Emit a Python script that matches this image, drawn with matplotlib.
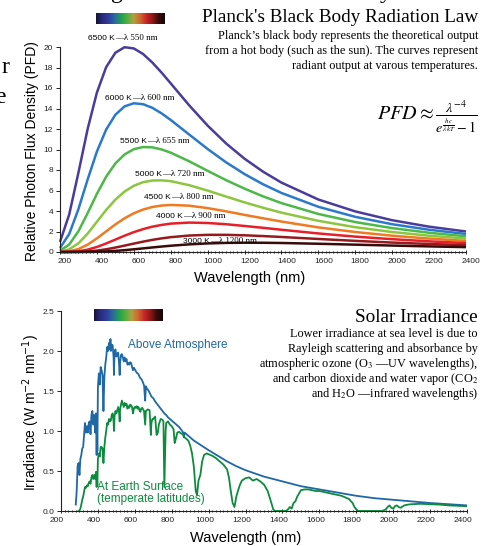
import matplotlib
matplotlib.use("Agg")
import numpy as np
import matplotlib.pyplot as plt
import matplotlib.transforms as mtrans
from matplotlib.colors import LinearSegmentedColormap
from matplotlib.ticker import MultipleLocator, FormatStrFormatter

SANS = 'Liberation Sans'
SERIF = 'Liberation Serif'
plt.rcParams['font.family'] = [SANS, 'DejaVu Sans']

# --- Planck curves (relative photon flux density) ---
wl = [200, 250, 300, 350, 400, 450, 500, 550, 600, 650, 700, 750, 800, 900,
      1000, 1100, 1200, 1300, 1400, 1600, 1800, 2000, 2200, 2400]

pfd_6500 = [0.98, 3.67, 7.75, 12.02, 15.56, 18.03, 19.44, 19.98, 19.86, 19.32, 18.49, 17.51,
            16.45, 14.31, 12.33, 10.59, 9.10, 7.84, 6.77, 5.12, 3.96, 3.10, 2.47, 2.00]
pfd_6000 = [0.39, 1.76, 4.19, 7.09, 9.80, 11.94, 13.39, 14.21, 14.51, 14.42, 14.07, 13.53,
            12.88, 11.46, 10.05, 8.75, 7.60, 6.61, 5.76, 4.41, 3.43, 2.71, 2.17, 1.76]
pfd_5500 = [0.13, 0.73, 2.03, 3.80, 5.68, 7.34, 8.64, 9.52, 10.03, 10.24, 10.21, 10.01,
            9.69, 8.85, 7.92, 7.01, 6.18, 5.43, 4.77, 3.71, 2.92, 2.33, 1.88, 1.53]
pfd_5000 = [0.035, 0.26, 0.85, 1.80, 2.95, 4.10, 5.11, 5.90, 6.46, 6.81, 6.97, 6.99,
            6.91, 6.52, 5.99, 5.41, 4.84, 4.32, 3.84, 3.04, 2.42, 1.95, 1.59, 1.31]
pfd_4500 = [0.007, 0.07, 0.29, 0.72, 1.33, 2.01, 2.69, 3.29, 3.78, 4.14, 4.39, 4.53,
            4.59, 4.52, 4.28, 3.97, 3.62, 3.29, 2.97, 2.40, 1.95, 1.59, 1.31, 1.08]
pfd_4000 = [0.001, 0.015, 0.077, 0.23, 0.49, 0.83, 1.21, 1.59, 1.94, 2.23, 2.47, 2.64,
            2.77, 2.87, 2.83, 2.71, 2.54, 2.36, 2.17, 1.81, 1.50, 1.25, 1.04, 0.87]
pfd_3500 = [0.0, 0.002, 0.014, 0.053, 0.135, 0.264, 0.432, 0.623, 0.821, 1.010, 1.181, 1.328,
            1.447, 1.606, 1.674, 1.674, 1.629, 1.554, 1.465, 1.271, 1.086, 0.921, 0.783, 0.666]
pfd_3000 = [0.0, 0.0, 0.001, 0.0075, 0.024, 0.058, 0.110, 0.179, 0.262, 0.352, 0.443, 0.531,
            0.612, 0.746, 0.837, 0.888, 0.906, 0.901, 0.879, 0.805, 0.716, 0.628, 0.546, 0.475]

pfd_curves = [pfd_6500, pfd_6000, pfd_5500, pfd_5000, pfd_4500, pfd_4000, pfd_3500, pfd_3000]
curve_colors = ['#4a3c9c', '#2b79cc', '#4cb848', '#8cc63f', '#f07a22', '#e61f2a', '#951a1d', '#3a0b0b']

label_temps = ['6500', '6000', '5500', '5000', '4500', '4000', '3000']
label_peaks = ['550', '600', '655', '720', '800', '900', '1200']
label_x = [498, 590, 671, 753, 801, 866, 1013]
label_y = [20.9, 15.1, 10.9, 7.7, 5.4, 3.6, 1.17]

# --- Solar irradiance ---
et_wl = [280, 285, 290, 295, 300, 305, 310, 315, 320, 325, 330, 335, 340, 345, 350, 355, 360,
         365, 370, 375, 380, 385, 390, 393, 395, 397, 400, 405, 410, 415, 420, 425, 430, 435,
         440, 445, 450, 455, 460, 465, 468, 470, 475, 480, 485, 487, 490, 495, 500, 505, 510,
         515, 518, 520, 525, 530, 535, 540, 545, 550, 555, 560, 565, 570, 575, 580, 585, 590,
         595, 600, 605, 610, 615, 620, 625, 630, 635, 640, 645, 650, 656, 660, 665, 670, 680,
         690, 700, 710, 720, 730, 740, 750, 760, 770, 780, 790, 800, 820, 840, 850, 860, 866,
         870, 880, 900, 920, 940, 960, 980, 1000, 1050, 1100, 1150, 1200, 1250, 1300, 1350,
         1400, 1450, 1500, 1550, 1600, 1700, 1800, 1900, 2000, 2100, 2200, 2300, 2400]
et_irr = [0.08, 0.25, 0.56, 0.60, 0.45, 0.65, 0.70, 0.78, 0.80, 0.95, 1.10, 0.98, 1.06, 0.98,
          1.09, 1.12, 0.96, 1.20, 1.25, 1.08, 1.20, 0.98, 1.22, 0.70, 1.05, 0.75, 1.55, 1.72,
          1.58, 1.80, 1.76, 1.70, 1.25, 1.68, 1.83, 1.92, 2.05, 2.00, 2.10, 2.02, 2.15, 2.00,
          2.08, 2.07, 1.92, 1.70, 1.98, 2.02, 1.93, 1.96, 1.98, 1.82, 1.70, 1.85, 1.95, 1.96,
          1.92, 1.87, 1.92, 1.87, 1.90, 1.83, 1.85, 1.83, 1.86, 1.85, 1.80, 1.76, 1.79, 1.77,
          1.75, 1.73, 1.72, 1.71, 1.68, 1.66, 1.65, 1.63, 1.60, 1.57, 1.38, 1.56, 1.53, 1.52,
          1.48, 1.43, 1.41, 1.37, 1.34, 1.31, 1.28, 1.25, 1.22, 1.20, 1.17, 1.15, 1.13, 1.09,
          1.05, 1.02, 0.99, 0.92, 0.98, 0.96, 0.92, 0.88, 0.85, 0.82, 0.79, 0.76, 0.69, 0.62,
          0.56, 0.51, 0.47, 0.43, 0.40, 0.37, 0.34, 0.31, 0.29, 0.27, 0.23, 0.19, 0.16, 0.14,
          0.12, 0.10, 0.085, 0.07]

sfc_wl = [295, 300, 305, 310, 315, 320, 325, 330, 335, 340, 345, 350, 355, 360, 365, 370, 375,
          380, 385, 390, 393, 395, 397, 400, 405, 410, 415, 420, 425, 430, 435, 440, 445, 450,
          455, 460, 465, 470, 475, 480, 485, 487, 490, 495, 500, 505, 510, 515, 518, 520, 525,
          530, 535, 540, 545, 550, 555, 560, 565, 570, 575, 580, 585, 590, 595, 600, 605, 610,
          615, 620, 625, 630, 635, 640, 645, 650, 656, 660, 665, 670, 680, 687, 690, 695, 700,
          710, 718, 725, 730, 740, 750, 755, 760, 763, 767, 770, 780, 790, 800, 810, 816, 822,
          830, 840, 850, 860, 870, 880, 890, 900, 910, 920, 930, 937, 945, 955, 965, 975, 990,
          1000, 1020, 1040, 1060, 1080, 1100, 1110, 1120, 1130, 1140, 1150, 1160, 1170, 1180,
          1200, 1220, 1240, 1260, 1280, 1300, 1320, 1340, 1350, 1360, 1380, 1400, 1420, 1430,
          1440, 1450, 1460, 1470, 1480, 1490, 1500, 1520, 1540, 1560, 1580, 1600, 1620, 1640,
          1660, 1680, 1700, 1720, 1740, 1760, 1780, 1790, 1800, 1810, 1850, 1900, 1940, 1960,
          1970, 1980, 1990, 2000, 2010, 2020, 2030, 2040, 2060, 2080, 2100, 2150, 2200, 2250,
          2300, 2350, 2400]
sfc_irr = [0.0, 0.005, 0.03, 0.08, 0.14, 0.18, 0.24, 0.30, 0.29, 0.32, 0.31, 0.35, 0.37, 0.34,
           0.42, 0.45, 0.40, 0.45, 0.40, 0.49, 0.30, 0.45, 0.32, 0.65, 0.72, 0.68, 0.80, 0.80,
           0.78, 0.60, 0.80, 0.92, 1.00, 1.10, 1.08, 1.15, 1.12, 1.13, 1.20, 1.22, 1.12, 1.00,
           1.18, 1.25, 1.22, 1.26, 1.30, 1.22, 1.12, 1.26, 1.33, 1.38, 1.34, 1.30, 1.35, 1.32,
           1.34, 1.28, 1.31, 1.29, 1.33, 1.32, 1.30, 1.22, 1.28, 1.30, 1.29, 1.31, 1.28, 1.30,
           1.26, 1.24, 1.28, 1.29, 1.27, 1.25, 1.08, 1.25, 1.26, 1.27, 1.26, 0.95, 1.10, 1.15,
           1.15, 1.18, 0.95, 0.98, 1.08, 1.15, 1.14, 1.12, 0.30, 0.60, 1.00, 1.10, 1.12, 1.08,
           1.06, 1.02, 0.85, 0.90, 0.98, 0.99, 0.97, 0.96, 0.92, 0.90, 0.88, 0.82, 0.72, 0.55,
           0.25, 0.20, 0.38, 0.45, 0.62, 0.70, 0.72, 0.71, 0.69, 0.66, 0.62, 0.58, 0.52, 0.42,
           0.25, 0.10, 0.05, 0.18, 0.26, 0.33, 0.38, 0.41, 0.42, 0.38, 0.40, 0.37, 0.33, 0.25,
           0.10, 0.02, 0.0, 0.0, 0.0, 0.0, 0.02, 0.05, 0.03, 0.10, 0.12, 0.18, 0.22, 0.26,
           0.27, 0.27, 0.26, 0.25, 0.25, 0.24, 0.23, 0.22, 0.21, 0.20, 0.19, 0.17, 0.15, 0.10,
           0.05, 0.02, 0.0, 0.0, 0.0, 0.0, 0.02, 0.05, 0.07, 0.04, 0.03, 0.06, 0.07, 0.05,
           0.04, 0.07, 0.08, 0.085, 0.09, 0.085, 0.08, 0.07, 0.065, 0.06]

spectrum_colors = ['#141433', '#2a2a80', '#2d3f9a', '#2a6aa0', '#22a050', '#50b040',
                   '#b0a040', '#d06a30', '#c82828', '#901818', '#3a0a0a', '#100808']

W, H = 482, 546
fig = plt.figure(figsize=(W / 100, H / 100), dpi=100)


def fx(px):
    return px / W


def fy(py):
    return 1 - py / H


def style_axes(ax):
    for s in ('top', 'right'):
        ax.spines[s].set_visible(False)
    for s in ('left', 'bottom'):
        ax.spines[s].set_linewidth(0.8)
        ax.spines[s].set_color('#222222')
    ax.set_facecolor('none')
    ax.tick_params(which='both', labelsize=6, colors='#222222', width=0.7)
    ax.tick_params(axis='y', direction='out', length=3, pad=2)
    ax.tick_params(axis='x', which='major', direction='inout', length=3, pad=3)
    ax.tick_params(axis='x', which='minor', direction='inout', length=2)
    ax.set_xlim(200, 2400)
    ax.xaxis.set_major_locator(MultipleLocator(200))
    ax.xaxis.set_minor_locator(MultipleLocator(20))


def shift_xlabels(ax, px):
    offset = mtrans.ScaledTranslation(px / 100, 0, fig.dpi_scale_trans)
    for lab in ax.get_xticklabels():
        lab.set_transform(lab.get_transform() + offset)


def spectrum_bar(px0, py0, px1, py1):
    cax = fig.add_axes([fx(px0), fy(py1), (px1 - px0) / W, (py1 - py0) / H])
    cmap = LinearSegmentedColormap.from_list('spec', spectrum_colors)
    cax.imshow(np.linspace(0, 1, 256)[None, :], aspect='auto', cmap=cmap)
    cax.set_axis_off()


# ---------- top: Planck ----------
ax1 = fig.add_axes([fx(60), fy(252), 406 / W, 205 / H])
for vals, c in zip(pfd_curves, curve_colors):
    ax1.plot(wl, vals, color=c, lw=1.8, clip_on=False, solid_capstyle='butt')
ax1.set_ylim(0, 20)
ax1.yaxis.set_major_locator(MultipleLocator(2))
style_axes(ax1)

for t, p, x, y in zip(label_temps, label_peaks, label_x, label_y):
    ax1.text(x, y - 0.25, f'{t} K', ha='right', va='baseline', family=SANS, fontsize=6)
    ax1.text(x, y - 0.25, f'\u2014\u03bb {p} nm', ha='left', va='baseline',
             family=SERIF, fontsize=6.4)

fig.text(fx(32), fy(151), 'Relative Photon Flux Density (PFD)', rotation=90,
         ha='center', va='center', fontsize=10)
fig.text(fx(250), fy(278), 'Wavelength (nm)', ha='center', va='center', fontsize=10.5)

fig.text(fx(478), fy(18), "Planck's Black Body Radiation Law", ha='right', va='center',
         family=SERIF, fontsize=13.8)
planck_lines = ["Planck\u2019s black body represents the theoretical output",
                "from a hot body (such as the sun). The curves represent",
                "radiant output at varous temperatures."]
for i, line in enumerate(planck_lines):
    fig.text(fx(478), fy(36 + 15 * i), line, ha='right', va='center', family=SERIF, fontsize=8.8)
fig.text(fx(478), fy(117), r'$PFD \approx \frac{\lambda^{-4}}{e^{\frac{hc}{\lambda kT}}-1}$',
         ha='right', va='center', fontsize=14.5, math_fontfamily='stix')

spectrum_bar(96, 13, 165, 24)

# ---------- bottom: solar irradiance ----------
ax2 = fig.add_axes([fx(61), fy(511), 406 / W, 200 / H])
ax2.plot(et_wl, et_irr, color='#1f68a6', lw=1.3)
ax2.plot(sfc_wl, sfc_irr, color='#0b8c3c', lw=1.3)
ax2.set_ylim(0, 2.5)
ax2.yaxis.set_major_locator(MultipleLocator(0.5))
ax2.yaxis.set_major_formatter(FormatStrFormatter('%.1f'))
style_axes(ax2)

ax2.text(563, 2.075, 'Above Atmosphere', color='#1f68a6', ha='left', va='center', fontsize=8.5)
ax2.text(395, 0.225, 'At Earth Surface\n(temperate latitudes)', color='#0b8c3c',
         ha='left', va='center', fontsize=8.5, linespacing=1.0)

fig.text(fx(31), fy(412), r'Irradiance (W m$^{-2}$ nm$^{-1}$)', rotation=90,
         ha='center', va='center', fontsize=10, math_fontfamily='dejavusans')
fig.text(fx(246), fy(538), 'Wavelength (nm)', ha='center', va='center', fontsize=10.5)

fig.text(fx(478), fy(318), 'Solar Irradiance', ha='right', va='center', family=SERIF, fontsize=13.8)
solar_lines = ["Lower irradiance at sea level is due to",
               "Rayleigh scattering and absorbance by",
               "atmospheric ozone (O$_3$ \u2014UV wavelengths),",
               "and carbon dioxide and water vapor (CO$_2$",
               "and H$_2$O \u2014infrared wavelengths)"]
for i, line in enumerate(solar_lines):
    fig.text(fx(478), fy(334 + 15 * i), line, ha='right', va='center', family=SERIF,
             fontsize=8.8, math_fontfamily='stix')

spectrum_bar(94, 309, 163, 321)

# fragments of neighbouring text cut by the crop
fig.text(fx(9), fy(73), 'r', ha='right', va='baseline', family=SERIF, fontsize=17)
fig.text(fx(6), fy(103), 'e', ha='right', va='baseline', family=SERIF, fontsize=17)
fig.text(fx(117), fy(-2), 'g', ha='center', va='baseline', family=SERIF, fontsize=17)
fig.text(fx(386), fy(-2), 'y', ha='center', va='baseline', family=SERIF, fontsize=17)

# tick labels sit slightly off their ticks in the original
fig.canvas.draw()
shift_xlabels(ax1, 5)
shift_xlabels(ax2, -4)

fig.savefig('out.png', dpi=100)
